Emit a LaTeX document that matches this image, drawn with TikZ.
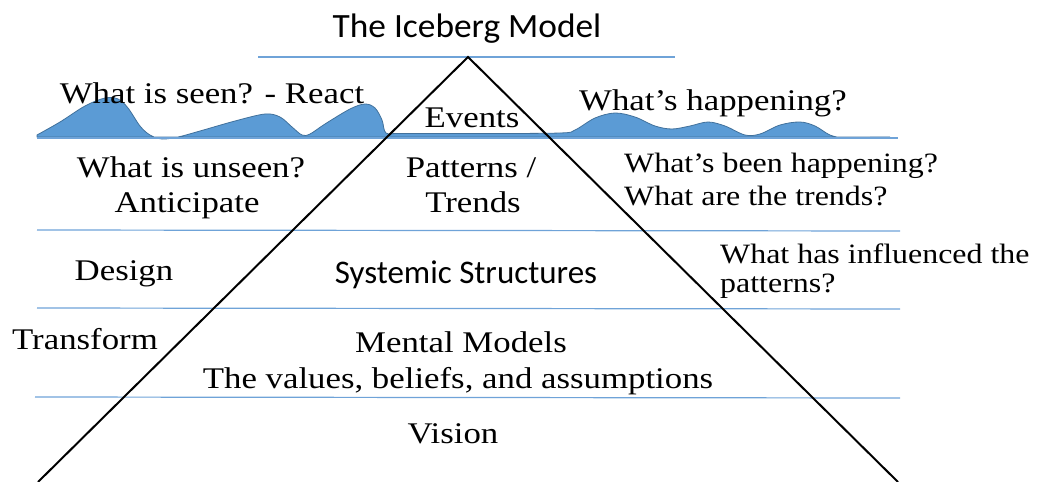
\documentclass[tikz,border=0pt]{standalone}
\usepackage{fontspec}
\setmainfont{Liberation Serif}
\newfontfamily\calib{Carlito}
\definecolor{waterfill}{HTML}{5B9BD5}
\definecolor{wateredge}{HTML}{41719C}
\definecolor{layerline}{HTML}{6FA3D8}
\tikzset{
  txt/.style={anchor=base, inner sep=0pt, xscale=1.16, font=\fontsize{30}{34}\selectfont},
  smalltxt/.style={anchor=base west, inner sep=0pt, xscale=1.14, font=\fontsize{28}{32}\selectfont},
  sanstxt/.style={anchor=base, inner sep=0pt, font=\calib\fontsize{33}{40}\selectfont},
  layer/.style={draw=layerline, line width=1.2pt},
  berg/.style={draw=black, line width=2pt},
  wave/.style={fill=waterfill, draw=wateredge, line width=0.8pt}
}
\begin{document}
\begin{tikzpicture}[x=1pt,y=-1pt]
\useasboundingbox (0,0) rectangle (1037,482);
% title
\node[sanstxt, font=\calib\fontsize{34}{40}\selectfont, xscale=1.04] (title) at (467,37) {The Iceberg Model};
\draw[layer] (258,57) -- (675,57);
% waves
\fill[wave] plot[smooth, tension=0.55] coordinates {
 (37,135) (60,122) (85,106) (105,98) (118,99) (128,108) (140,126) (150,135) (162,139)
 (178,137) (200,131) (235,121) (265,114) (280,117) (292,127) (302,135) (310,134)
 (325,124) (350,109) (365,104) (375,108) (382,120) (386,133) (400,133.5) (480,133.5)
 (560,133) (575,130) (595,118) (615,113) (635,117) (655,126) (672,129) (690,126)
 (708,122) (725,126) (745,135) (760,134) (780,125) (800,122) (815,126) (830,135)
 (845,138) (870,137) (890,137)} -- (37,137) -- cycle;
% layer lines
\draw[layer] (37,138) -- (898,138);
\draw[layer] (37,230) -- (900,231);
\draw[layer] (37,308) -- (900,309);
\draw[layer] (35,397) -- (900,398);
% iceberg
\coordinate (apex) at (468,57);
\coordinate (bl) at (38,482);
\coordinate (br) at (898,482);
\draw[berg] (bl) -- (apex) -- (br);
% texts
\node[txt] (seen) at (212,103) {What is seen? - React};
\node[txt] (events) at (472,127) {Events};
\node[txt] (happ) at (713,110) {What’s happening?};
\node[txt] (unseen) at (191,177) {What is unseen?};
\node[txt] (antic) at (187,212) {Anticipate};
\node[txt] (patt) at (471,177) {Patterns /};
\node[txt] (trends) at (473,212) {Trends};
\node[smalltxt] (been) at (624,172) {What’s been happening?};
\node[smalltxt] (trq) at (624,205) {What are the trends?};
\node[txt] (design) at (124,280) {Design};
\node[sanstxt] (sys) at (466,283) {Systemic Structures};
\node[smalltxt] (infl) at (720,263) {What has influenced the};
\node[smalltxt] (pattq) at (720,292) {patterns?};
\node[txt] (transf) at (85,349) {Transform};
\node[txt] (mental) at (461,352) {Mental Models};
\node[txt] (values) at (458,388) {The values, beliefs, and assumptions};
\node[txt] (vision) at (453,443) {Vision};
\end{tikzpicture}
\end{document}
